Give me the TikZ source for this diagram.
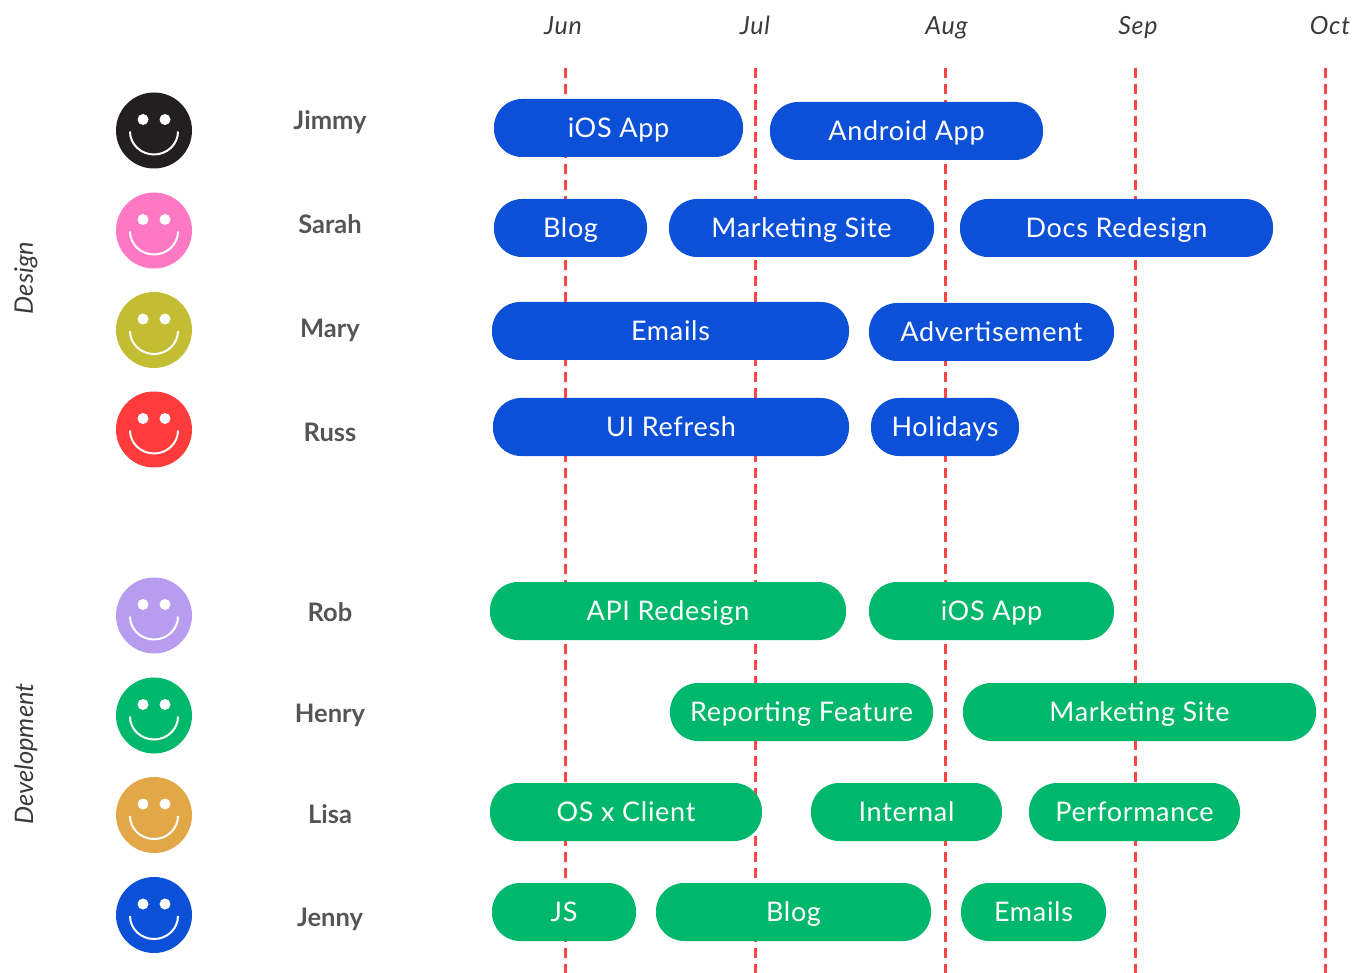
\documentclass[tikz,border=0pt]{standalone}
\usepackage{fontspec}
\setmainfont{Lato}
\definecolor{barblue}{HTML}{0D50D8}
\definecolor{bargreen}{HTML}{00B86B}
\definecolor{redline}{HTML}{FF4545}
\definecolor{namegray}{HTML}{555558}
\definecolor{monthgray}{HTML}{3A3A3C}
\definecolor{c1}{HTML}{231F20}
\definecolor{c2}{HTML}{FF78C4}
\definecolor{c3}{HTML}{C3BD34}
\definecolor{c4}{HTML}{FF3B3B}
\definecolor{c5}{HTML}{B79CF0}
\definecolor{c6}{HTML}{00B86B}
\definecolor{c7}{HTML}{E2A747}
\definecolor{c8}{HTML}{0D50D8}
\newfontfamily\pillfont[LetterSpace=2.6]{Lato}
\newfontfamily\monthfont[LetterSpace=3,ItalicFont={Lato Italic}]{Lato}
\tikzset{
  pill/.style={rounded corners=28pt,minimum height=58pt,inner sep=0pt,text height=19pt,text depth=0pt,text=white,font=\pillfont\fontsize{27}{30}\selectfont},
  blueb/.style={pill,fill=barblue},
  greenb/.style={pill,fill=bargreen},
  month/.style={anchor=base,font=\monthfont\fontsize{25}{28}\selectfont\itshape,text=monthgray},
  person/.style={anchor=base,font=\fontsize{25.5}{28}\selectfont\bfseries,text=namegray},
  group/.style={font=\fontsize{25.5}{28}\selectfont\itshape,text=monthgray,rotate=90},
  faceb/.style={circle,minimum size=76pt,inner sep=0pt},
  gridl/.style={redline,line width=2.8pt,dash pattern=on 10pt off 6pt},
}
\newcommand{\pillbar}[7]{\node[#2,minimum width={(#5-#4)*1pt}] (#1) at ({(#4+#5)/2},{(#6+#7)/2}) {#3};}
\newcommand{\smiley}[3]{%
  \node[faceb,fill=#2] (#1) at (154,#3) {};
  \fill[white] ([shift={(-11pt,11pt)}]#1.center) circle[radius=5.5pt];
  \fill[white] ([shift={(11pt,11pt)}]#1.center) circle[radius=5.5pt];
  \draw[white,line width=2pt] ([shift={(-24pt,-1pt)}]#1.center) arc[start angle=180,end angle=360,x radius=24pt,y radius=23pt];
}
\begin{document}
\begin{tikzpicture}[x=1pt,y=-1pt]
\useasboundingbox (0,0) rectangle (1355,973);
\foreach \n/\x/\t in {jun/563/Jun,jul/755/Jul,aug/946.5/Aug,sep/1138/Sep,oct/1330/Oct}{
  \node[month] (\n) at (\x,35) {\t};
}
\coordinate (g1a) at (565.6,68); \coordinate (g1b) at (565.6,973);
\coordinate (g2a) at (755.6,68); \coordinate (g2b) at (755.6,973);
\coordinate (g3a) at (945.6,68); \coordinate (g3b) at (945.6,973);
\coordinate (g4a) at (1135.6,68); \coordinate (g4b) at (1135.6,973);
\coordinate (g5a) at (1325.6,68); \coordinate (g5b) at (1325.6,973);
\foreach \i in {1,...,5}{ \draw[gridl] (g\i a) -- (g\i b); }
\node[group] (design) at (26,278) {Design};
\node[group] (dev) at (26,754) {Development};
\smiley{f1}{c1}{130.5}
\smiley{f2}{c2}{230.5}
\smiley{f3}{c3}{330}
\smiley{f4}{c4}{429.5}
\smiley{f5}{c5}{615.5}
\smiley{f6}{c6}{715.5}
\smiley{f7}{c7}{815}
\smiley{f8}{c8}{915}
\node[person] (n1) at (330,130) {Jimmy};
\node[person] (n2) at (330,234) {Sarah};
\node[person] (n3) at (330,338) {Mary};
\node[person] (n4) at (330,442) {Russ};
\node[person] (n5) at (330,621) {Rob};
\node[person] (n6) at (330,722) {Henry};
\node[person] (n7) at (330,823) {Lisa};
\node[person] (n8) at (330,926) {Jenny};
\pillbar{b1}{blueb}{iOS App}{494}{743}{99}{157}
\pillbar{b2}{blueb}{Android App}{770}{1043}{102}{160}
\pillbar{b3}{blueb}{Blog}{494}{647}{199}{257}
\pillbar{b4}{blueb}{Marketing Site}{669}{934}{199}{257}
\pillbar{b5}{blueb}{Docs Redesign}{960}{1273}{199}{257}
\pillbar{b6}{blueb}{Emails}{492}{849}{302}{360}
\pillbar{b7}{blueb}{Advertisement}{869}{1114}{303}{361}
\pillbar{b8}{blueb}{UI Refresh}{493}{849}{398}{456}
\pillbar{b9}{blueb}{Holidays}{871}{1019}{398}{456}
\pillbar{g1}{greenb}{API Redesign}{490}{846}{582}{640}
\pillbar{g2}{greenb}{iOS App}{869}{1114}{582}{640}
\pillbar{g3}{greenb}{Reporting Feature}{670}{933}{683}{741}
\pillbar{g4}{greenb}{Marketing Site}{963}{1316}{683}{741}
\pillbar{g5}{greenb}{OS x Client}{490}{762}{783}{841}
\pillbar{g6}{greenb}{Internal}{811}{1002}{783}{841}
\pillbar{g7}{greenb}{Performance}{1029}{1240}{783}{841}
\pillbar{g8}{greenb}{JS}{492}{636}{883}{941}
\pillbar{g9}{greenb}{Blog}{656}{931}{883}{941}
\pillbar{g10}{greenb}{Emails}{961}{1106}{883}{941}
\end{tikzpicture}
\end{document}
